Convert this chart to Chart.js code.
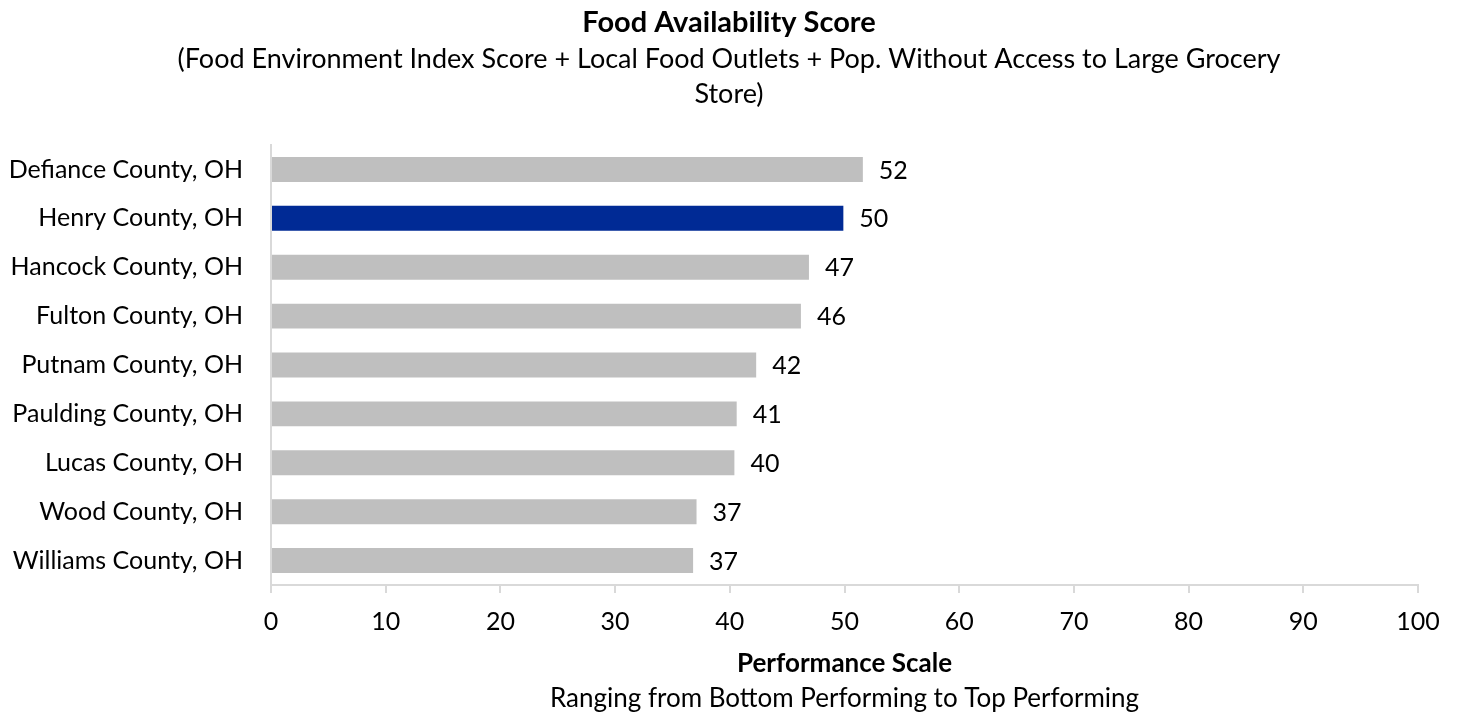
<!DOCTYPE html>
<html>
<head>
<meta charset="utf-8">
<script src="https://cdn.jsdelivr.net/npm/chart.js@4.4.1/dist/chart.umd.min.js"></script>
<style>
  html, body { margin: 0; padding: 0; background: #fff; }
  #wrap { width: 1458px; height: 715px; position: relative; }
</style>
</head>
<body>
<div id="wrap"><canvas id="foodChart"></canvas></div>
<script>
const counties = [
    'Defiance County, OH',
    'Henry County, OH',
    'Hancock County, OH',
    'Fulton County, OH',
    'Putnam County, OH',
    'Paulding County, OH',
    'Lucas County, OH',
    'Wood County, OH',
    'Williams County, OH'
];
const scores = [51.6, 49.9, 46.9, 46.2, 42.3, 40.6, 40.4, 37.1, 36.8];
const highlightCounty = 'Henry County, OH';
const xTicks = [0, 10, 20, 30, 40, 50, 60, 70, 80, 90, 100];

const FONT = 'Lato, "Open Sans", sans-serif';
const GREY = '#bfbfbf';
const BLUE = '#002a95';

// value labels at the end of each bar
const valueLabels = {
    id: 'valueLabels',
    afterDatasetsDraw(chart) {
        const ctx = chart.ctx;
        const meta = chart.getDatasetMeta(0);
        ctx.save();
        ctx.font = '25px ' + FONT;
        ctx.fillStyle = '#000';
        ctx.textAlign = 'left';
        ctx.textBaseline = 'middle';
        meta.data.forEach((bar, i) => {
            ctx.fillText(Math.round(scores[i]), bar.x + 16, bar.y + 1);
        });
        ctx.restore();
    }
};

// second line under the x axis title
const axisSubtitle = {
    id: 'axisSubtitle',
    afterDraw(chart) {
        const area = chart.chartArea;
        const ctx = chart.ctx;
        ctx.save();
        ctx.font = '26px ' + FONT;
        ctx.fillStyle = '#000';
        ctx.textAlign = 'center';
        ctx.textBaseline = 'middle';
        ctx.fillText('Ranging from Bottom Performing to Top Performing', (area.left + area.right) / 2, 699);
        ctx.restore();
    }
};

const ctx = document.getElementById('foodChart').getContext('2d');
new Chart(ctx, {
    type: 'bar',
    data: {
        labels: counties,
        datasets: [{
            data: scores,
            backgroundColor: counties.map(c => c === highlightCounty ? BLUE : GREY),
            borderWidth: 0,
            categoryPercentage: 1,
            barPercentage: 0.51
        }]
    },
    options: {
        indexAxis: 'y',
        responsive: true,
        maintainAspectRatio: false,
        animation: false,
        layout: {
            padding: 0
        },
        plugins: {
            legend: { display: false },
            tooltip: { enabled: false },
            title: {
                display: true,
                text: 'Food Availability Score',
                color: '#000',
                font: { family: FONT, size: 29, weight: 'bold', lineHeight: 1.2 },
                padding: { top: 5, bottom: 2 }
            },
            subtitle: {
                display: true,
                text: ['(Food Environment Index Score + Local Food Outlets + Pop. Without Access to Large Grocery', 'Store)'],
                color: '#000',
                font: { family: FONT, size: 27, lineHeight: 1.3 },
                padding: { top: 0, bottom: 33 }
            }
        },
        scales: {
            x: {
                min: 0,
                max: 100,
                afterBuildTicks(axis) {
                    axis.ticks = xTicks.map(v => ({ value: v }));
                },
                afterFit(axis) {
                    axis.height = 130;
                    axis.paddingRight = 40;
                },
                grid: {
                    drawOnChartArea: false,
                    drawTicks: true,
                    tickLength: 8,
                    color: '#d9d9d9',
                    lineWidth: 2
                },
                border: { color: '#d9d9d9', width: 2 },
                ticks: {
                    color: '#000',
                    font: { family: FONT, size: 25, lineHeight: 1.2 },
                    padding: 14,
                    maxRotation: 0
                },
                title: {
                    display: true,
                    text: 'Performance Scale',
                    color: '#000',
                    font: { family: FONT, size: 26, weight: 'bold', lineHeight: 1.2 },
                    padding: { top: 10, bottom: 36 }
                }
            },
            y: {
                afterFit(axis) {
                    axis.width = 271;
                },
                grid: {
                    drawOnChartArea: false,
                    drawTicks: false
                },
                border: { color: '#d9d9d9', width: 2 },
                ticks: {
                    color: '#000',
                    font: { family: FONT, size: 25 },
                    padding: 28
                }
            }
        }
    },
    plugins: [valueLabels, axisSubtitle]
});
</script>
</body>
</html>
